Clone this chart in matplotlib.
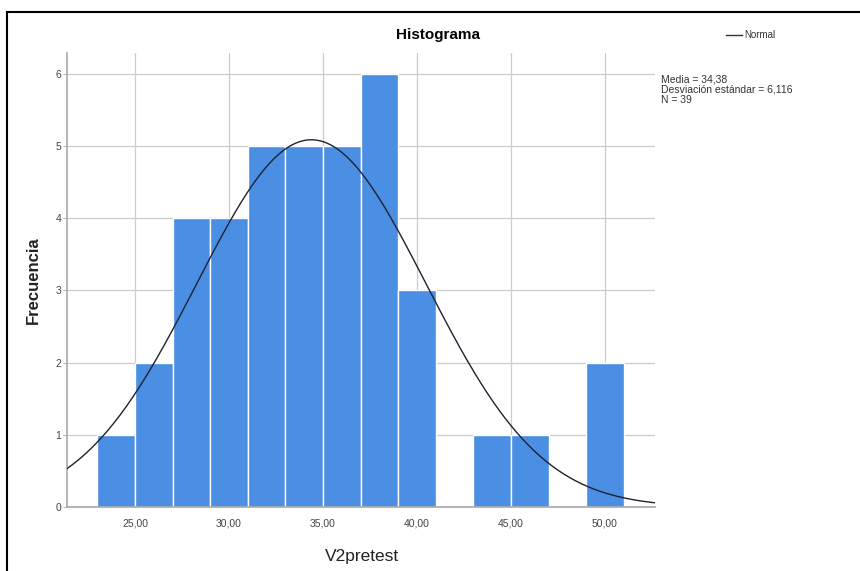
## Histograma de V2pretest con curva normal (estilo SPSS)

import matplotlib
matplotlib.use('Agg')
import matplotlib.pyplot as plt
from matplotlib.lines import Line2D
import numpy as np

plt.rcParams['font.family'] = ['Liberation Sans', 'DejaVu Sans']

## datos
bin_left = [23, 25, 27, 29, 31, 33, 35, 37, 39, 41, 43, 45, 47, 49]
counts = [1, 2, 4, 4, 5, 5, 5, 6, 3, 0, 1, 1, 0, 2]
bin_width = 2
media = 34.38
desv = 6.116
n = 39
xticks = [25, 30, 35, 40, 45, 50]
xtick_labels = ['25,00', '30,00', '35,00', '40,00', '45,00', '50,00']
yticks = [0, 1, 2, 3, 4, 5, 6]

fig = plt.figure(figsize=(8.6, 5.71), dpi=100)
ax = fig.add_axes([67/860, 1-507/571, 588/860, 454/571])

xmin, xmax = 21.38, 52.66
ax.set_xlim(xmin, xmax)
ax.set_ylim(0, 6.29)

## rejilla detras de las barras
ax.set_axisbelow(True)
ax.set_xticks(xticks)
ax.set_xticklabels(xtick_labels)
ax.set_yticks(yticks)
ax.grid(True, color='#cccccc', linewidth=0.9)

ax.bar(bin_left, counts, width=bin_width, align='edge',
       color='#4a8fe3', edgecolor='white', linewidth=1.0, zorder=2)

## curva normal con los parametros del grafico
xs = np.linspace(xmin, xmax, 400)
ys = n * bin_width / (desv * np.sqrt(2*np.pi)) * np.exp(-0.5*((xs-media)/desv)**2)
ax.plot(xs, ys, color='#1e2230', linewidth=1.0, zorder=3)

for s in ['top', 'right']:
    ax.spines[s].set_visible(False)
for s in ['left', 'bottom']:
    ax.spines[s].set_color('#a8a8a8')
    ax.spines[s].set_linewidth(1.2)

ax.tick_params(axis='x', length=0, pad=8, labelsize=7.5, labelcolor='#444444')
ax.tick_params(axis='y', length=3, width=0.8, color='#bbbbbb', pad=1,
               labelsize=7.5, labelcolor='#444444')

## textos
fig.text(438/860, 1-35/571, 'Histograma', ha='center', va='center',
         fontsize=11, fontweight='bold')
fig.text(33/860, 1-280/571, 'Frecuencia', rotation=90, ha='center', va='center',
         fontsize=12, fontweight='bold', color='#222222')
fig.text(362/860, 1-556/571, 'V2pretest', ha='center', va='center',
         fontsize=12.5, color='#222222')

## leyenda
fig.add_artist(Line2D([726/860, 742/860], [1-35/571, 1-35/571],
                      color='#333333', linewidth=1.0))
fig.text(744/860, 1-35/571, 'Normal', ha='left', va='center', fontsize=7,
         color='#333333')
fig.text(661/860, 1-75/571,
         'Media = 34,38\nDesviación estándar = 6,116\nN = 39',
         ha='left', va='top', fontsize=7.5, linespacing=1.0, color='#333333')

## marco de la captura
fig.add_artist(Line2D([7/860, 1.0], [1-12/571, 1-12/571], color='black', linewidth=1.5))
fig.add_artist(Line2D([7/860, 7/860], [0.0, 1-12/571], color='black', linewidth=1.5))

fig.savefig('out.png', dpi=100)
